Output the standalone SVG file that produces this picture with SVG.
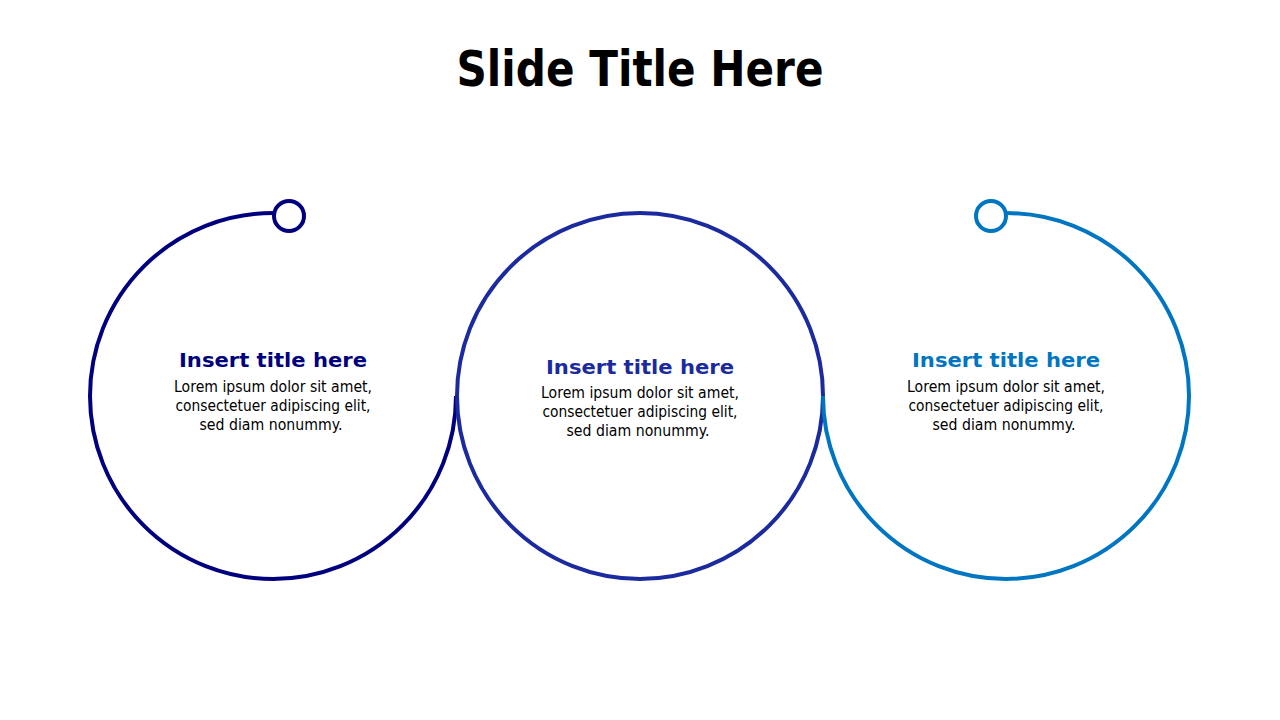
<svg xmlns="http://www.w3.org/2000/svg" width="1280" height="720" viewBox="0 0 1280 720">
<style>
.ring{fill:none;stroke-width:4}
.title{font-family:"DejaVu Sans","Liberation Sans",sans-serif;font-weight:bold;font-size:20px;text-anchor:middle}
.body{font-family:"DejaVu Sans","Liberation Sans",sans-serif;font-size:15px;fill:#000;text-anchor:middle}
.head{font-family:"DejaVu Sans","Liberation Sans",sans-serif;font-weight:bold;font-size:49px;fill:#000;text-anchor:middle}
</style>
<rect width="1280" height="720" fill="#fff"/>
<text class="head" x="640" y="86" textLength="367" lengthAdjust="spacingAndGlyphs">Slide Title Here</text>
<g id="node1">
<path class="ring" stroke="#00007f" d="M 276 213 H 273 A 183 183 0 1 0 456 396"/>
<circle class="ring" stroke="#00007f" cx="289" cy="216" r="15"/>
<text class="title" fill="#00007f" x="273" y="367" textLength="188" lengthAdjust="spacingAndGlyphs">Insert title here</text>
<text class="body" x="273" y="392" textLength="198" lengthAdjust="spacingAndGlyphs">Lorem ipsum dolor sit amet,</text>
<text class="body" x="273" y="411" textLength="195" lengthAdjust="spacingAndGlyphs">consectetuer adipiscing elit,</text>
<text class="body" x="271" y="430" textLength="143" lengthAdjust="spacingAndGlyphs">sed diam nonummy.</text>
</g>
<g id="node2">
<circle class="ring" stroke="#1b2a9e" cx="640" cy="396" r="183"/>
<text class="title" fill="#1b2a9e" x="640" y="374" textLength="188" lengthAdjust="spacingAndGlyphs">Insert title here</text>
<text class="body" x="640" y="398" textLength="198" lengthAdjust="spacingAndGlyphs">Lorem ipsum dolor sit amet,</text>
<text class="body" x="640" y="417" textLength="195" lengthAdjust="spacingAndGlyphs">consectetuer adipiscing elit,</text>
<text class="body" x="638" y="436" textLength="143" lengthAdjust="spacingAndGlyphs">sed diam nonummy.</text>
</g>
<g id="node3">
<path class="ring" stroke="#0075c2" d="M 1004 213 H 1006 A 183 183 0 1 1 823 396"/>
<circle class="ring" stroke="#0075c2" cx="991" cy="216" r="15"/>
<text class="title" fill="#0075c2" x="1006" y="367" textLength="188" lengthAdjust="spacingAndGlyphs">Insert title here</text>
<text class="body" x="1006" y="392" textLength="198" lengthAdjust="spacingAndGlyphs">Lorem ipsum dolor sit amet,</text>
<text class="body" x="1006" y="411" textLength="195" lengthAdjust="spacingAndGlyphs">consectetuer adipiscing elit,</text>
<text class="body" x="1004" y="430" textLength="143" lengthAdjust="spacingAndGlyphs">sed diam nonummy.</text>
</g>
<g id="connectors"></g>
</svg>
